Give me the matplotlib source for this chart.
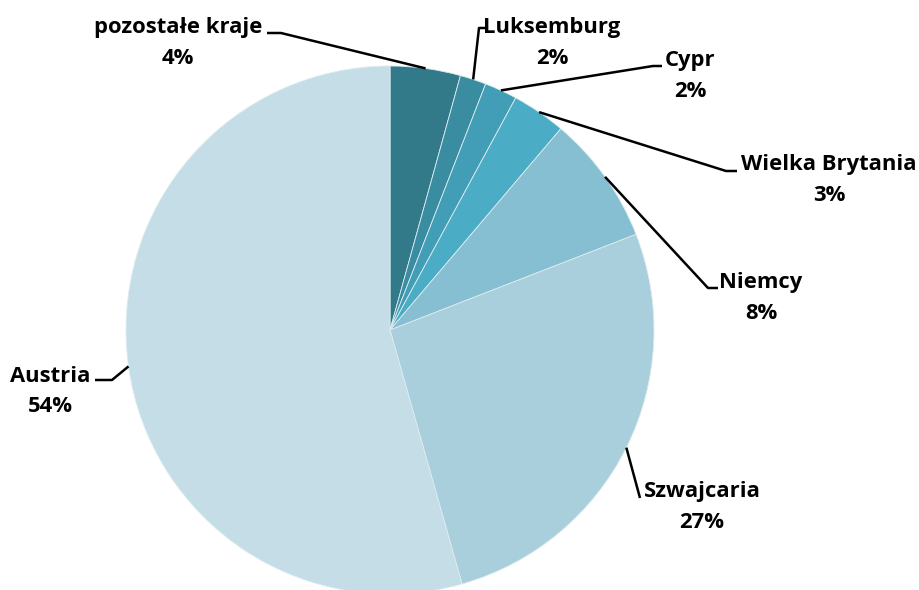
import numpy as np
import matplotlib
matplotlib.use("Agg")
import matplotlib.pyplot as plt

categories = ["pozostałe kraje", "Luksemburg", "Cypr", "Wielka Brytania", "Niemcy", "Szwajcaria", "Austria"]
values = [4.3, 1.6, 2.0, 3.3, 7.9, 26.5, 54.4]
pct_labels = ["4%", "2%", "2%", "3%", "8%", "27%", "54%"]
colors = ["#327A8A", "#3A8CA1", "#419EB6", "#4BACC6", "#86BFD1", "#A9CFDC", "#C4DDE6"]

# label layout (pixel coords, y from top): text center x, name y, elbow point, line end
label_pos = [(178, 27), (552, 27), (690, 60), (829, 164), (761, 282), (702, 492), (50, 376)]
elbows = [(281, 33), (479, 28), (653, 66), (726, 171), (708, 288), (640, 498), (112, 380)]
ends = [(267, 33), (485, 28), (662, 66), (737, 171), (718, 288), (640, 498), (95, 380)]

W, H = 920, 590
fig = plt.figure(figsize=(W / 100, H / 100), dpi=100)
ax = fig.add_axes([0, 0, 1, 1])

cx, cy, r = 390, H - 330, 264
wedges, _ = ax.pie(values, colors=colors, startangle=90, counterclock=False,
                   center=(cx, cy), radius=r, frame=True,
                   wedgeprops=dict(edgecolor="#DDEBF0", linewidth=0.6))
ax.set_xlim(0, W)
ax.set_ylim(0, H)
ax.set_aspect("equal")
ax.axis("off")

fam = ["Open Sans", "DejaVu Sans"]
for w, name, pct, (tx, ty), (ex, ey), (lx, ly) in zip(wedges, categories, pct_labels, label_pos, elbows, ends):
    mid = np.deg2rad((w.theta1 + w.theta2) / 2)
    sx, sy = cx + r * np.cos(mid), cy + r * np.sin(mid)
    ax.plot([sx, ex, lx], [sy, H - ey, H - ly], color="black", lw=1.8, solid_capstyle="butt")
    ax.text(tx, H - ty, name, ha="center", va="center", fontsize=15.8, fontweight="bold", family=fam)
    ax.text(tx, H - ty - 31, pct, ha="center", va="center", fontsize=15.8, fontweight="bold", family=fam)

fig.savefig("out.png", dpi=100)
